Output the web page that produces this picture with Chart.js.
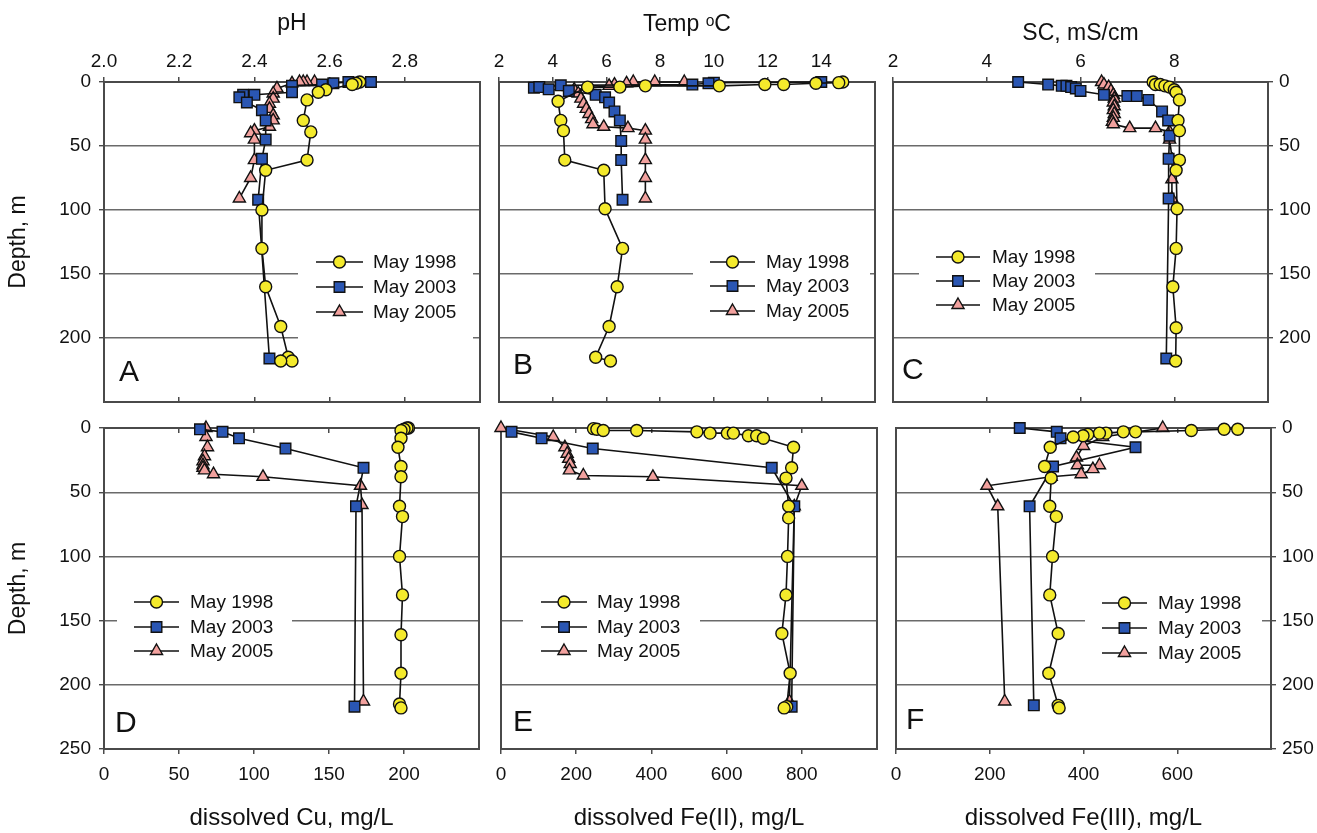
<!DOCTYPE html>
<html>
<head>
<meta charset="utf-8">
<title>Depth profiles, May 1998 / 2003 / 2005</title>
<script src="https://cdn.jsdelivr.net/npm/chart.js@4/dist/chart.umd.min.js"></script>
<style>
  html, body { margin: 0; padding: 0; background: #fff; }
  #wrap { position: relative; width: 1317px; height: 833px; overflow: hidden; background: #fff; }
  #wrap canvas { position: absolute; left: 0; top: 0; }
</style>
</head>
<body>
<div id="wrap"></div>
<script>
// ---- data: [value, depth m] pairs ----
const seriesLabels = ["May 1998", "May 2003", "May 2005"];

const depthTicksTop = [0, 50, 100, 150, 200];
const depthTicksBottom = [0, 50, 100, 150, 200, 250];

const phTicks = [2.0, 2.2, 2.4, 2.6, 2.8];
const tempTicks = [2, 4, 6, 8, 10, 12, 14];
const scTicks = [2, 4, 6, 8];
const cuTicks = [0, 50, 100, 150, 200];
const fe2Ticks = [0, 200, 400, 600, 800];
const fe3Ticks = [0, 200, 400, 600];

const ph1998 = [[2.68, 0], [2.67, 1], [2.66, 2], [2.59, 6], [2.57, 8], [2.54, 14], [2.53, 30], [2.55, 39], [2.54, 61], [2.43, 69], [2.42, 100], [2.42, 130], [2.43, 160], [2.47, 191], [2.49, 215], [2.50, 218], [2.47, 218]];
const ph2003 = [[2.71, 0], [2.65, 0], [2.61, 1], [2.58, 2], [2.50, 3], [2.50, 8], [2.40, 10], [2.37, 10], [2.36, 12], [2.38, 16], [2.42, 22], [2.43, 30], [2.43, 45], [2.42, 60], [2.41, 92], [2.44, 216]];
const ph2005 = [[2.56, 0], [2.54, 0], [2.53, 0], [2.52, 0], [2.50, 1], [2.46, 5], [2.45, 9], [2.45, 13], [2.44, 17], [2.44, 21], [2.45, 26], [2.45, 30], [2.44, 35], [2.40, 38], [2.39, 40], [2.40, 45], [2.40, 61], [2.39, 75], [2.36, 91]];

const temp1998 = [[14.8, 0], [14.65, 0.5], [13.8, 1], [12.6, 2], [11.9, 2], [10.2, 3], [7.45, 3], [6.5, 4], [5.3, 4], [4.2, 15], [4.3, 30], [4.4, 38], [4.45, 61], [5.9, 69], [5.95, 99], [6.6, 130], [6.4, 160], [6.1, 191], [5.6, 215], [6.15, 218]];
const temp2003 = [[14.0, 0], [10.0, 0.5], [9.8, 1], [9.2, 2], [4.3, 2.6], [3.3, 4.4], [3.5, 4], [3.85, 5.7], [4.6, 7], [5.6, 10], [5.95, 12], [6.1, 16], [6.3, 23], [6.5, 30], [6.55, 46], [6.55, 61], [6.6, 92]];
const temp2005 = [[8.9, 0], [7.8, 0], [7.0, 0], [6.75, 1], [6.3, 2], [6.1, 3], [4.8, 6], [4.95, 9], [5.05, 13], [5.15, 17], [5.25, 21], [5.35, 25], [5.45, 29], [5.5, 33], [5.9, 35], [6.8, 36], [7.45, 38], [7.45, 45], [7.45, 61], [7.45, 75], [7.45, 91]];

const sc1998 = [[7.55, 0], [7.6, 2], [7.7, 2], [7.8, 3], [7.9, 4], [8.0, 6], [8.04, 8], [8.11, 14], [8.08, 30], [8.11, 38], [8.11, 61], [8.04, 69], [8.06, 99], [8.04, 130], [7.97, 160], [8.04, 192], [8.03, 218]];
const sc2003 = [[4.67, 0], [5.31, 2], [5.6, 3], [5.7, 3], [5.8, 4], [5.9, 5], [6.0, 7], [6.5, 10], [7.0, 11], [7.2, 11], [7.45, 14], [7.74, 23], [7.87, 30], [7.9, 42], [7.88, 60], [7.88, 91], [7.83, 216]];
const sc2005 = [[6.45, 0], [6.5, 2], [6.6, 4], [6.65, 7], [6.7, 10], [6.72, 13], [6.7, 16], [6.72, 19], [6.7, 22], [6.72, 25], [6.7, 28], [6.68, 31], [6.7, 33], [7.05, 36], [7.6, 36], [7.9, 39], [7.9, 45], [7.96, 61], [7.95, 76], [7.95, 91]];

const cu1998 = [[203, 0], [202, 0], [200, 1], [198, 2], [198, 8], [196, 15], [198, 30], [198, 38], [197, 61], [199, 69], [197, 100], [199, 130], [198, 161], [198, 191], [197, 215], [198, 218]];
const cu2003 = [[64, 1], [79, 3], [90, 8], [121, 16], [173, 31], [168, 61], [167, 217]];
const cu2005 = [[68, 0], [68, 7], [69, 15], [67, 22], [66, 26], [66, 29], [66, 31], [67, 33], [73, 36], [106, 38], [171, 45], [172, 60], [173, 213]];

const fe2_1998 = [[246, 0.5], [255, 1], [272, 2], [361, 2], [521, 3], [556, 4], [602, 4], [618, 4], [658, 6], [680, 6], [698, 8], [778, 15], [773, 31], [758, 39], [765, 61], [765, 70], [762, 100], [758, 130], [747, 160], [769, 191], [760, 217], [753, 218]];
const fe2_2003 = [[28, 3], [108, 8], [244, 16], [720, 31], [780, 61], [773, 217]];
const fe2_2005 = [[0, 0], [139, 7], [170, 15], [176, 20], [180, 24], [184, 28], [182, 33], [219, 37], [404, 38], [800, 45], [780, 61], [767, 213]];

const fe3_1998 = [[729, 1], [700, 1], [630, 2], [511, 3], [485, 3], [448, 4], [434, 4], [409, 5], [399, 6], [378, 7], [329, 15], [317, 30], [331, 39], [328, 61], [342, 69], [334, 100], [328, 130], [346, 160], [326, 191], [346, 216], [348, 218]];
const fe3_2003 = [[264, 0], [343, 3], [351, 8], [511, 15], [335, 30], [285, 61], [294, 216]];
const fe3_2005 = [[569, 0], [441, 7], [400, 14], [385, 23], [387, 29], [434, 29], [420, 32], [395, 36], [331, 38], [194, 45], [217, 61], [232, 213]];

// ---- look ----
const PAGE_W = 1317, PAGE_H = 833;
const FONT = '"Liberation Sans", Arial, "DejaVu Sans", sans-serif';
const textColor = "#111";
const frameColor = "#4a4a4a";
const gridColor = "#6a6a6a";
const lineColor = "#111";
const markerStyles = ["circle", "rect", "triangle"];
const markerSizes = [6, 7.5, 7];
const markerColors = ["#f4ea2c", "#2a56b3", "#f2a19e"];

Chart.defaults.font.family = FONT;
Chart.defaults.color = textColor;

const oneDecimal = (v) => v.toFixed(1);
const plain = (v) => String(v);

const panels = [
  { row: 0, series: [ph1998, ph2003, ph2005], range: [2, 3], ticks: phTicks, fmt: oneDecimal,
    title: "pH", titlePad: 10, yMode: "left", area: { l: 104, r: 480, t: 82, b: 402 },
    legend: { boxX1: 298, boxX2: 473, boxY1: 240, boxY2: 348, lineX1: 316, lineX2: 363, textX: 373, rows: [262, 287, 312] },
    letter: { text: "A", x: 119, y: 373 } },
  { row: 0, series: [temp1998, temp2003, temp2005], range: [2, 16], ticks: tempTicks, fmt: plain,
    title: "Temp \u1D52C", titlePad: 11, yMode: "none", area: { l: 499, r: 875, t: 82, b: 402 },
    legend: { boxX1: 693, boxX2: 870, boxY1: 242, boxY2: 330, lineX1: 710, lineX2: 755, textX: 766, rows: [262, 286, 311] },
    letter: { text: "B", x: 513, y: 366 } },
  { row: 0, series: [sc1998, sc2003, sc2005], range: [2, 10], ticks: scTicks, fmt: plain,
    title: "SC, mS/cm", titlePad: 20, yMode: "right", area: { l: 893, r: 1268, t: 82, b: 402 },
    legend: { boxX1: 919, boxX2: 1095, boxY1: 236, boxY2: 326, lineX1: 936, lineX2: 980, textX: 992, rows: [257, 281, 305] },
    letter: { text: "C", x: 902, y: 371 } },
  { row: 1, series: [cu1998, cu2003, cu2005], range: [0, 250], ticks: cuTicks, fmt: plain,
    title: "dissolved Cu, mg/L", yMode: "left", area: { l: 104, r: 479, t: 428, b: 749 },
    legend: { boxX1: 117, boxX2: 292, boxY1: 582, boxY2: 672, lineX1: 134, lineX2: 179, textX: 190, rows: [602, 627, 651] },
    letter: { text: "D", x: 115, y: 724 } },
  { row: 1, series: [fe2_1998, fe2_2003, fe2_2005], range: [0, 1000], ticks: fe2Ticks, fmt: plain,
    title: "dissolved Fe(II), mg/L", yMode: "none", area: { l: 501, r: 877, t: 428, b: 749 },
    legend: { boxX1: 523, boxX2: 700, boxY1: 582, boxY2: 672, lineX1: 541, lineX2: 587, textX: 597, rows: [602, 627, 651] },
    letter: { text: "E", x: 513, y: 723 } },
  { row: 1, series: [fe3_1998, fe3_2003, fe3_2005], range: [0, 800], ticks: fe3Ticks, fmt: plain,
    title: "dissolved Fe(III), mg/L", yMode: "right", area: { l: 896, r: 1271, t: 428, b: 749 },
    legend: { boxX1: 1085, boxX2: 1262, boxY1: 583, boxY2: 674, lineX1: 1102, lineX2: 1147, textX: 1158, rows: [603, 628, 653] },
    letter: { text: "F", x: 906, y: 721 } },
];

function drawMarker(ctx, style, radius, x, y) {
  if (Chart.helpers && Chart.helpers.drawPoint) {
    Chart.helpers.drawPoint(ctx, { pointStyle: style, radius: radius, rotation: 0, borderWidth: 1 }, x, y);
    return;
  }
  ctx.beginPath();
  ctx.arc(x, y, radius, 0, Math.PI * 2);
  ctx.fill();
  ctx.stroke();
}

// frame, legend box and panel letter, drawn after the grid and before the data
const panelDeco = {
  id: "panelDeco",
  beforeDatasetsDraw(chart, args, opts) {
    const ctx = chart.ctx;
    const a = chart.chartArea;
    const lg = opts.legend;
    ctx.save();
    ctx.fillStyle = "#fff";
    ctx.fillRect(lg.boxX1, lg.boxY1, lg.boxX2 - lg.boxX1, lg.boxY2 - lg.boxY1);

    ctx.strokeStyle = frameColor;
    ctx.lineWidth = 2;
    ctx.strokeRect(a.left, a.top, a.right - a.left, a.bottom - a.top);

    chart.data.datasets.forEach((ds, i) => {
      const y = lg.rows[i];
      ctx.strokeStyle = lineColor;
      ctx.lineWidth = 1.6;
      ctx.beginPath();
      ctx.moveTo(lg.lineX1, y);
      ctx.lineTo(lg.lineX2, y);
      ctx.stroke();
      ctx.fillStyle = ds.pointBackgroundColor;
      ctx.strokeStyle = ds.pointBorderColor;
      ctx.lineWidth = ds.pointBorderWidth;
      drawMarker(ctx, ds.pointStyle, ds.pointRadius, (lg.lineX1 + lg.lineX2) / 2, y);
      ctx.fillStyle = textColor;
      ctx.font = "19px " + FONT;
      ctx.textAlign = "left";
      ctx.textBaseline = "middle";
      ctx.fillText(ds.label, lg.textX, y + 1);
    });

    ctx.fillStyle = "#111";
    ctx.font = "30px " + FONT;
    ctx.textAlign = "left";
    ctx.textBaseline = "middle";
    ctx.fillText(opts.letter.text, opts.letter.x, opts.letter.y);
    ctx.restore();
  },
};

const wrap = document.getElementById("wrap");

function buildChart(p) {
  const canvas = document.createElement("canvas");
  canvas.width = PAGE_W;
  canvas.height = PAGE_H;
  wrap.appendChild(canvas);

  const a = p.area;
  const topRow = p.row === 0;
  const yW = p.yMode === "left" ? a.l : p.yMode === "right" ? PAGE_W - a.r : 0;
  const xH = topRow ? a.t : PAGE_H - a.b;
  const setTicks = (list) => (scale) => { scale.ticks = list.map((v) => ({ value: v })); };

  new Chart(canvas, {
    type: "scatter",
    data: {
      datasets: p.series.map((pairs, i) => ({
        label: seriesLabels[i],
        data: pairs.map(([x, y]) => ({ x: x, y: y })),
        showLine: true,
        borderColor: lineColor,
        borderWidth: 1.6,
        pointStyle: markerStyles[i],
        pointRadius: markerSizes[i],
        pointBackgroundColor: markerColors[i],
        pointBorderColor: "#111",
        pointBorderWidth: 1.4,
        clip: false,
      })),
    },
    options: {
      responsive: false,
      animation: false,
      events: [],
      layout: {
        padding: {
          left: p.yMode === "left" ? 0 : a.l,
          right: p.yMode === "right" ? 0 : PAGE_W - a.r,
          top: topRow ? 0 : a.t,
          bottom: topRow ? PAGE_H - a.b : 0,
        },
      },
      plugins: {
        legend: { display: false },
        tooltip: { enabled: false },
        panelDeco: { legend: p.legend, letter: p.letter },
      },
      scales: {
        x: {
          type: "linear",
          position: topRow ? "top" : "bottom",
          min: p.range[0],
          max: p.range[1],
          afterBuildTicks: setTicks(p.ticks),
          afterFit: (s) => { s.height = xH; },
          ticks: {
            autoSkip: false,
            maxRotation: 0,
            padding: topRow ? 4 : 9,
            color: textColor,
            font: { size: 19 },
            callback: (v) => p.fmt(v),
          },
          grid: { drawOnChartArea: false, drawTicks: true, tickLength: 5, tickColor: frameColor, lineWidth: 1.5 },
          border: { display: false },
          title: {
            display: true,
            text: p.title,
            color: textColor,
            font: { size: topRow ? 23 : 24 },
            padding: topRow ? { top: p.titlePad, bottom: 0 } : { top: 0, bottom: 0 },
          },
        },
        x2: {
          type: "linear",
          position: topRow ? "bottom" : "top",
          min: p.range[0],
          max: p.range[1],
          afterBuildTicks: setTicks(p.ticks),
          afterFit: (s) => { s.height = 0; },
          ticks: { display: false },
          grid: { drawOnChartArea: false, drawTicks: true, tickLength: -5, tickColor: frameColor, lineWidth: 1.5 },
          border: { display: false },
        },
        y: {
          type: "linear",
          position: p.yMode === "right" ? "right" : "left",
          reverse: true,
          min: 0,
          max: 250,
          afterBuildTicks: setTicks(topRow ? depthTicksTop : depthTicksBottom),
          afterFit: (s) => { s.width = yW; },
          ticks: {
            display: p.yMode !== "none",
            padding: p.yMode === "left" ? 8 : 6,
            color: textColor,
            font: { size: 19 },
            callback: (v) => String(v),
          },
          grid: {
            color: gridColor,
            lineWidth: 1.4,
            drawTicks: p.yMode !== "none",
            tickLength: 5,
            tickColor: frameColor,
          },
          border: { display: false },
          title: {
            display: p.yMode === "left",
            text: "Depth, m",
            color: textColor,
            font: { size: 23 },
            padding: { top: 5, bottom: 0 },
          },
        },
      },
    },
    plugins: [panelDeco],
  });
}

panels.forEach(buildChart);
</script>
</body>
</html>
